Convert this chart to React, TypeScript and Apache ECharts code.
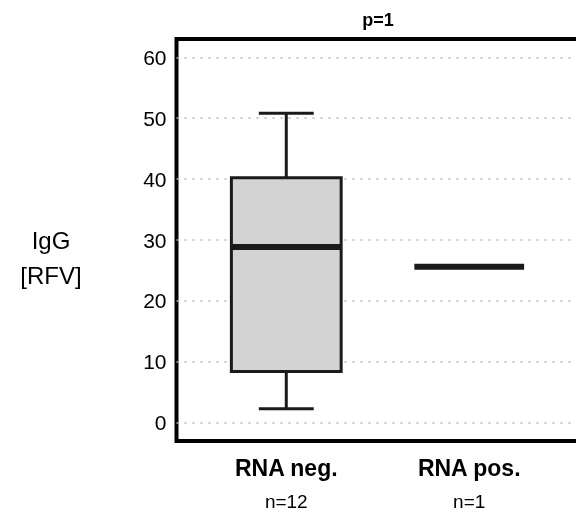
import React, { useEffect, useRef } from "react";
import * as echarts from "echarts";

const categories = ["RNA neg.", "RNA pos."];
const counts = ["n=12", "n=1"];
const positions = [1, 2];
// box statistics: min, Q1, median, Q3, max
const boxMin = [2.3, 25.6];
const boxQ1 = [8.4, 25.6];
const boxMedian = [28.85, 25.6];
const boxQ3 = [40.2, 25.6];
const boxMax = [50.8, 25.6];
const yTicks = [0, 10, 20, 30, 40, 50, 60];
const pValueLabel = "p=1";
const yLabel = "IgG\n[RFV]";

const FONT = "Liberation Sans, Arial, sans-serif";
const INK = "#1a1a1a";

export default function App() {
  const ref = useRef<HTMLDivElement>(null);
  useEffect(() => {
    const chart = echarts.init(ref.current!, null, { renderer: "svg" });
    const data = positions.map((p, i) => [p, boxMin[i], boxQ1[i], boxMedian[i], boxQ3[i], boxMax[i]]);
    chart.setOption({
      animation: false,
      grid: {
        left: 176.5,
        top: 39,
        width: 402.5,
        height: 402,
        show: true,
        borderColor: "#000",
        borderWidth: 4,
        backgroundColor: "transparent",
        containLabel: false,
        outerBoundsMode: "none",
      },
      xAxis: {
        type: "value",
        min: 0.4,
        max: 2.6,
        axisLine: { show: false },
        axisTick: { show: false },
        splitLine: { show: false },
        axisLabel: {
          customValues: positions,
          margin: 12,
          formatter: (v: number) => {
            const i = positions.indexOf(v);
            return `{a|${categories[i]}}\n{b|${counts[i]}}`;
          },
          rich: {
            a: { fontSize: 23, fontWeight: "bold", color: "#000", fontFamily: FONT, lineHeight: 30 },
            b: { fontSize: 19, color: "#000", fontFamily: FONT, lineHeight: 37 },
          },
        },
      },
      yAxis: {
        type: "value",
        min: -3,
        max: 63,
        axisLine: { show: false },
        axisTick: { show: false, customValues: yTicks },
        axisLabel: { customValues: yTicks, fontSize: 21, color: "#000", margin: 10, fontFamily: FONT },
        splitLine: { show: true, lineStyle: { type: [2, 6], color: "#b5b5b5", width: 1.5 } },
      },
      series: [
        {
          type: "custom",
          data,
          encode: { x: 0, y: [1, 2, 3, 4, 5] },
          renderItem: (params: any, api: any) => {
            const x = api.value(0);
            const mn = api.value(1);
            const q1 = api.value(2);
            const md = api.value(3);
            const q3 = api.value(4);
            const mx = api.value(5);
            const band = api.size([1, 0])[0];
            const bw = band * 0.6;
            const cw = band * 0.3;
            const pMin = api.coord([x, mn]);
            const pQ1 = api.coord([x, q1]);
            const pMd = api.coord([x, md]);
            const pQ3 = api.coord([x, q3]);
            const pMax = api.coord([x, mx]);
            const cx = pMd[0];
            const lineStyle = { stroke: INK, lineWidth: 3, fill: null };
            const children: any[] = [
              { type: "line", shape: { x1: cx, y1: pQ3[1], x2: cx, y2: pMax[1] }, style: lineStyle },
              { type: "line", shape: { x1: cx, y1: pQ1[1], x2: cx, y2: pMin[1] }, style: lineStyle },
              { type: "line", shape: { x1: cx - cw / 2, y1: pMax[1], x2: cx + cw / 2, y2: pMax[1] }, style: lineStyle },
              { type: "line", shape: { x1: cx - cw / 2, y1: pMin[1], x2: cx + cw / 2, y2: pMin[1] }, style: lineStyle },
            ];
            if (q3 > q1) {
              children.push({
                type: "rect",
                shape: { x: cx - bw / 2, y: pQ3[1], width: bw, height: pQ1[1] - pQ3[1] },
                style: { fill: "#d3d3d3", stroke: INK, lineWidth: 3 },
              });
            }
            children.push({
              type: "line",
              shape: { x1: cx - bw / 2, y1: pMd[1], x2: cx + bw / 2, y2: pMd[1] },
              style: { stroke: INK, lineWidth: 6, lineCap: "butt" },
            });
            return { type: "group", children };
          },
        },
      ],
      graphic: [
        {
          type: "text",
          x: 378,
          y: 20,
          style: {
            text: pValueLabel,
            font: `bold 18px ${FONT}`,
            fill: "#000",
            align: "center",
            verticalAlign: "middle",
          },
        },
        {
          type: "text",
          x: 51,
          y: 258,
          style: {
            text: yLabel,
            font: `24px ${FONT}`,
            fill: "#000",
            align: "center",
            verticalAlign: "middle",
            lineHeight: 35,
          },
        },
      ],
    });
    return () => chart.dispose();
  }, []);
  return <div ref={ref} style={{ position: "fixed", left: 0, top: 0, width: 576, height: 513 }} />;
}
